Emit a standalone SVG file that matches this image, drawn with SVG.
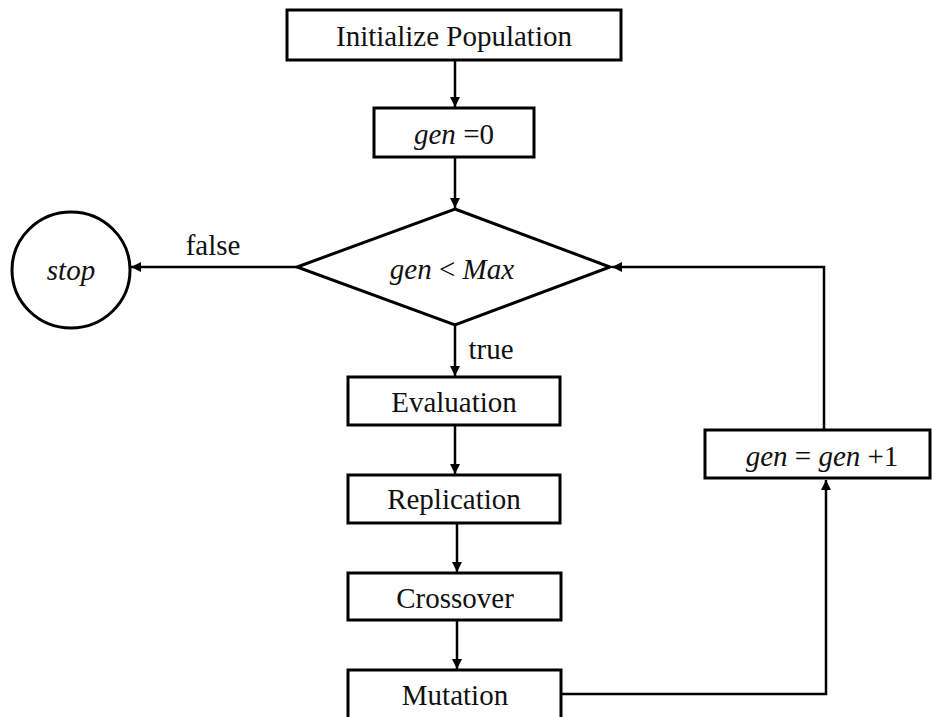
<svg xmlns="http://www.w3.org/2000/svg" width="932" height="717" viewBox="0 0 932 717">
<style>
.box{fill:#fff;stroke:#000;stroke-width:3}
.t{font-family:"Liberation Serif","Times New Roman",serif;font-size:29px;fill:#111;text-anchor:middle;dominant-baseline:central}
.i{font-style:italic}
.c{fill:none;stroke:#000;stroke-width:2.5}
</style>
<defs>
<marker id="ah" viewBox="0 0 10 10" refX="10" refY="5" markerWidth="10" markerHeight="10" markerUnits="userSpaceOnUse" orient="auto">
<path d="M0,0 L10,5 L0,10 Z" fill="#000"/>
</marker>
</defs>
<rect width="932" height="717" fill="#fff"/>
<g id="connectors">
<line class="c" x1="455" y1="60" x2="455" y2="107" marker-end="url(#ah)"/>
<line class="c" x1="455" y1="157" x2="455" y2="208" marker-end="url(#ah)"/>
<line class="c" x1="297" y1="267" x2="131" y2="267" marker-end="url(#ah)"/>
<line class="c" x1="455" y1="325" x2="455" y2="376" marker-end="url(#ah)"/>
<line class="c" x1="455" y1="425" x2="455" y2="474" marker-end="url(#ah)"/>
<line class="c" x1="457" y1="523" x2="457" y2="572" marker-end="url(#ah)"/>
<line class="c" x1="457" y1="620" x2="457" y2="669" marker-end="url(#ah)"/>
<polyline class="c" points="561,694 826,694 826,480" marker-end="url(#ah)"/>
<polyline class="c" points="824,430 824,267 612,267" marker-end="url(#ah)"/>
<text class="t" x="213" y="245">false</text>
<text class="t" x="491" y="349">true</text>
</g>
<g id="init"><rect class="box" x="287" y="10" width="334" height="50"/><text class="t" x="454" y="36">Initialize Population</text></g>
<g id="gen0"><rect class="box" x="374" y="108" width="160" height="49"/><text class="t" x="454" y="134"><tspan class="i">gen</tspan> =0</text></g>
<g id="cond"><polygon class="box" points="455,209 610,267 455,325 297,267"/><text class="t" x="452" y="269"><tspan class="i">gen</tspan> &lt; <tspan class="i">Max</tspan></text></g>
<g id="stop"><ellipse class="box" cx="71" cy="270" rx="59" ry="58"/><text class="t i" x="71" y="270">stop</text></g>
<g id="eval"><rect class="box" x="348" y="377" width="212" height="48"/><text class="t" x="454" y="402">Evaluation</text></g>
<g id="repl"><rect class="box" x="348" y="475" width="212" height="48"/><text class="t" x="454" y="499">Replication</text></g>
<g id="cross"><rect class="box" x="348" y="573" width="213" height="47"/><text class="t" x="455" y="598">Crossover</text></g>
<g id="mut"><rect class="box" x="348" y="670" width="213" height="50"/><text class="t" x="455" y="695">Mutation</text></g>
<g id="inc"><rect class="box" x="705" y="430" width="225" height="48"/><text class="t" x="822" y="456"><tspan class="i">gen</tspan> = <tspan class="i">gen</tspan> +1</text></g>
</svg>
